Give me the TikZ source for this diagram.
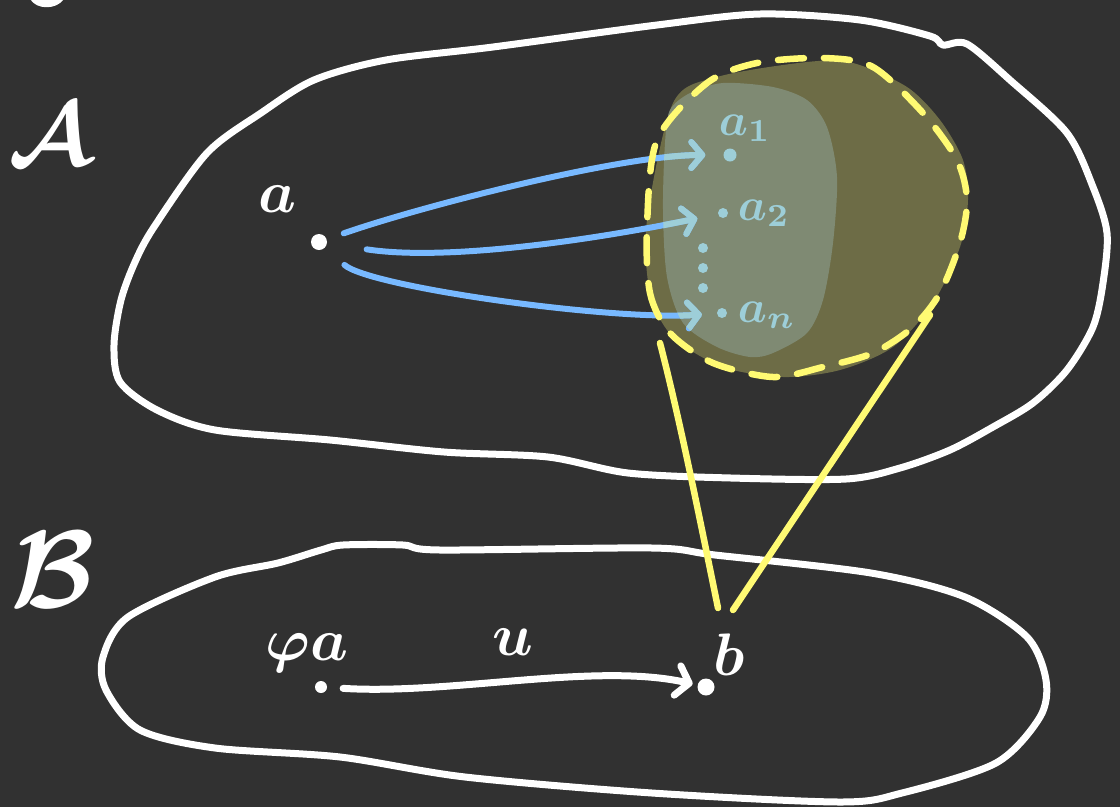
\documentclass[tikz,border=0pt]{standalone}
\usetikzlibrary{arrows.meta,positioning}
\definecolor{board}{RGB}{49,49,49}
\definecolor{chalk}{RGB}{255,255,255}
\definecolor{marker}{RGB}{255,250,115}
\definecolor{mossfill}{RGB}{109,108,70}
\definecolor{glowfill}{RGB}{127,138,115}
\definecolor{arrowblue}{RGB}{120,185,255}
\definecolor{softcyan}{RGB}{157,206,216}
\tikzset{
  blob/.style={draw=chalk,line width=7pt,line cap=round,line join=round},
  spot/.style={circle,fill=#1,inner sep=0pt,minimum size=16pt},
  spot/.default=chalk,
  lbl/.style={text=chalk,font=\boldmath,scale=6,inner sep=0pt,anchor=base},
  tag/.style={text=softcyan,font=\boldmath,scale=4.6,inner sep=0pt,anchor=base west},
  spread/.style={draw=arrowblue,line width=6pt,line cap=round,-{Straight Barb[length=11pt,width=26pt,round]}},
  rim/.style={draw=marker,line width=6.5pt,line cap=round}
}
% light part of the image of a
\newcommand{\glowshape}[1]{%
  \path[#1] plot[smooth cycle] coordinates {(665,143) (670,110) (690,93) (723,83) (773,87) (807,100) (827,127) (837,177) (833,243) (823,300) (807,333) (773,353) (750,357) (717,347) (683,323) (667,277) (663,210)};}
% a -> a_1, a_2, a_n
\newcommand{\spreadarrows}{%
  \draw[spread,shorten <=18pt,shorten >=18pt] (a) .. controls +(100,-35) and +(-110,0) .. (a1);
  \draw[spread,shorten <=40pt,shorten >=21pt] (a) .. controls +(130,20) and +(-120,25) .. (a2);
  \draw[spread,shorten <=26pt,shorten >=15pt] (a) .. controls +(50,45) and +(-110,8) .. (an);}

\begin{document}
\begin{tikzpicture}[x=1pt,y=-1pt]
\fill[board] (0,0) rectangle (1120,807);
\useasboundingbox (0,0) rectangle (1120,807);

% set A
\draw[blob] plot[smooth cycle] coordinates {(121,300) (135,262) (154,227) (207,153) (261,113) (314,80) (386,60) (493,47) (657,25) (760,14) (860,20) (930,36) (943,45) (967,44) (1010,80) (1067,133) (1093,187) (1107,233) (1103,283) (1093,327) (1067,370) (1033,403) (993,427) (950,450) (900,468) (846,479) (731,478) (628,473) (548,457) (444,452) (330,440) (215,430) (157,410) (120,382) (114,345)};
\draw[blob] (33,-3) .. controls (38,6) and (55,6) .. (61,-3);
\node[text=chalk,font=\boldmath,scale=9,inner sep=0pt] (setA) at (50,135) {$\mathcal{A}$};

% preimage region
\fill[mossfill] plot[smooth cycle] coordinates {(647,220) (650,293) (673,337) (723,367) (783,377) (840,370) (893,347) (933,303) (960,247) (968,200) (963,160) (940,120) (907,87) (853,63) (807,62) (717,77) (673,103)};
\glowshape{fill=glowfill}

\node[spot] (a) at (319,242) {};
\node[lbl,above=20pt of a,xshift=-7pt] (alabel) {$a$};
\node[spot=softcyan,minimum size=13pt] (a1) at (730,155) {};
\node[spot=softcyan,minimum size=10pt] (a2) at (723,213) {};
\node[spot=softcyan,minimum size=10pt] (an) at (722,313) {};
\foreach \y in {248,268,288}
  \fill[softcyan] (703,\y) circle (5);
\node[tag] (a1tag) at (718,135) {$a_1$};
\node[tag] (a2tag) at (737,220) {$a_2$};
\node[tag] (antag) at (737,322) {$a_n$};

\spreadarrows
\begin{scope}[spread/.append style={draw=softcyan}]
  \glowshape{clip}
  \spreadarrows
\end{scope}

\draw[rim,dash pattern=on 26pt off 20pt] plot[smooth cycle] coordinates {(647,227) (650,293) (670,333) (713,363) (773,377) (823,367) (873,353) (913,327) (940,293) (960,243) (967,200) (957,160) (923,113) (873,67) (823,58) (757,63) (707,83) (657,140)};

% set B
\draw[blob] plot[smooth cycle] coordinates {(103,657) (128,617) (215,577) (278,563) (321,550) (343,545) (403,545) (440,550) (652,548) (715,555) (871,573) (965,597) (1027,637) (1046,680) (1040,717) (996,763) (902,793) (840,802) (652,793) (465,777) (340,757) (215,748) (140,730) (106,690)};
\node[text=chalk,font=\boldmath,scale=11,inner sep=0pt] (setB) at (53,570) {$\mathcal{B}$};

\node[spot,minimum size=12pt] (phi) at (321,687) {};
\node[spot,minimum size=17pt] (b) at (706,687) {};
\node[lbl] (philabel) at (307,660) {$\varphi a$};
\node[lbl] (ulabel) at (513,655) {$u$};
\node[lbl] (blabel) at (729,675) {$b$};
\draw[blob,shorten <=16pt,shorten >=5pt,-{Straight Barb[length=12pt,width=30pt,round]}] (phi) .. controls +(130,8) and +(-110,-25) .. (b);

% cone from b up to the region
\coordinate (rimL) at (660,343);
\coordinate (rimR) at (930,315);
\coordinate (footL) at (718,608);
\coordinate (footR) at (733,610);
\draw[rim] (rimL) .. controls (680,420) and (700,520) .. (footL);
\draw[rim] (rimR) -- (footR);
\end{tikzpicture}
\end{document}
